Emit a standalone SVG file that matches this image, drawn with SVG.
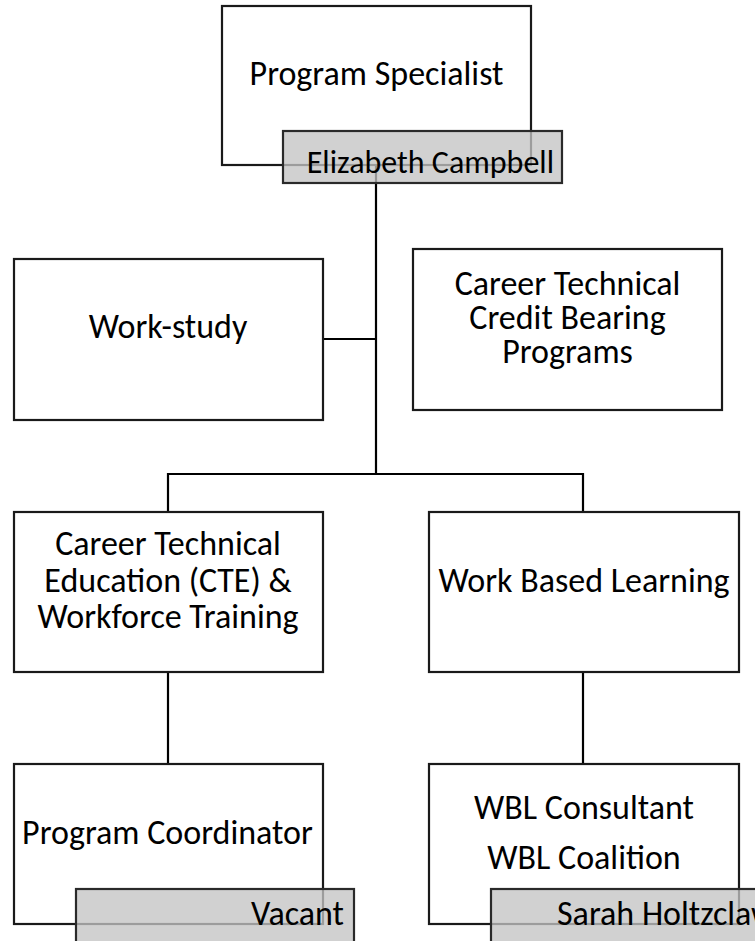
<svg xmlns="http://www.w3.org/2000/svg" width="755" height="941" viewBox="0 0 755 941">
  <style>
    .box { fill: #ffffff; stroke: #1a1a1a; stroke-width: 2.2; }
    .tag { fill: #c3c3c3; fill-opacity: 0.77; stroke: #2a2a2a; stroke-width: 2.2; }
    .conn { stroke: #000000; stroke-width: 2.2; fill: none; }
    text { font-family: Carlito, Lato, "Open Sans", sans-serif; font-size: 34px; fill: #000000; }
    .c { text-anchor: middle; }
    .e { text-anchor: end; }
  </style>
  <rect x="0" y="0" width="755" height="941" fill="#ffffff"/>

  <g id="connectors">
    <line class="conn" x1="376" y1="165" x2="376" y2="474"/>
    <line class="conn" x1="323" y1="339" x2="376" y2="339"/>
    <line class="conn" x1="167" y1="474" x2="584" y2="474"/>
    <line class="conn" x1="168" y1="473" x2="168" y2="512"/>
    <line class="conn" x1="583" y1="473" x2="583" y2="512"/>
    <line class="conn" x1="168" y1="672" x2="168" y2="764"/>
    <line class="conn" x1="583" y1="672" x2="583" y2="764"/>
  </g>

  <g id="program-specialist">
    <rect class="box" x="222" y="6" width="309" height="159" fill-opacity="0"/>
    <text class="c" x="376.5" y="85">Program Specialist</text>
  </g>
  <g id="elizabeth-campbell">
    <rect class="tag" x="283" y="131" width="279" height="52"/>
    <text class="e" x="554" y="173" style="font-size:32px">Elizabeth Campbell</text>
  </g>

  <g id="work-study">
    <rect class="box" x="14" y="259" width="309" height="161"/>
    <text class="c" x="168" y="338">Work-study</text>
  </g>

  <g id="career-technical-credit">
    <rect class="box" x="413" y="249" width="309" height="161"/>
    <text class="c" x="567.5" y="295">Career Technical</text>
    <text class="c" x="567.5" y="329">Credit Bearing</text>
    <text class="c" x="567.5" y="363">Programs</text>
  </g>

  <g id="cte-workforce">
    <rect class="box" x="14" y="512" width="309" height="160"/>
    <text class="c" x="168" y="555">Career Technical</text>
    <text class="c" x="168" y="592">Education (CTE) &amp;</text>
    <text class="c" x="168" y="628">Workforce Training</text>
  </g>

  <g id="work-based-learning">
    <rect class="box" x="429" y="512" width="310" height="160"/>
    <text class="c" x="584" y="592">Work Based Learning</text>
  </g>

  <g id="program-coordinator">
    <rect class="box" x="14" y="764" width="309" height="160"/>
    <text class="c" x="167.5" y="844">Program Coordinator</text>
  </g>
  <g id="vacant">
    <rect class="tag" x="76" y="889" width="278" height="60"/>
    <text class="e" x="344" y="925">Vacant</text>
  </g>

  <g id="wbl-consultant">
    <rect class="box" x="429" y="764" width="310" height="160"/>
    <text class="c" x="584" y="819">WBL Consultant</text>
    <text class="c" x="584" y="869">WBL Coalition</text>
  </g>
  <g id="sarah-holtzclaw">
    <rect class="tag" x="491" y="889" width="300" height="60"/>
    <text x="557" y="925">Sarah Holtzclaw</text>
  </g>
</svg>
